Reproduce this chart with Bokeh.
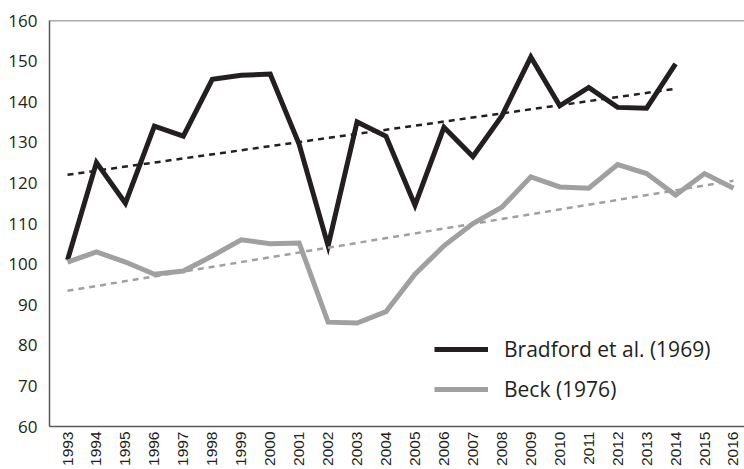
import math
import numpy as np
from bokeh.plotting import figure
from bokeh.models import FixedTicker, Span, Legend, LegendItem, Range1d
from bokeh.embed import file_html
from bokeh.resources import INLINE

# ---- data ----
years_bradford = list(range(1993, 2015))
bradford = [101.0, 125.0, 115.0, 134.0, 131.5, 145.5, 146.5, 146.8, 129.5, 104.5,
            135.0, 131.5, 114.5, 133.7, 126.5, 136.5, 151.0, 139.0, 143.5, 138.6,
            138.4, 149.3]
years_beck = list(range(1993, 2017))
beck = [100.5, 103.0, 100.5, 97.5, 98.3, 102.0, 106.0, 105.0, 105.2, 85.7,
        85.5, 88.3, 97.5, 104.5, 110.0, 114.0, 121.5, 119.0, 118.7, 124.5,
        122.3, 117.0, 122.3, 118.7]
y_ticks = [60, 70, 80, 90, 100, 110, 120, 130, 140, 150, 160]
series_names = ["Bradford et al. (1969)", "Beck (1976)"]

BLACK = "#231f20"
GRAY = "#a0a0a0"
AXIS = "#595959"

p = figure(width=744, height=469, output_backend="svg", toolbar_location=None,
           x_range=Range1d(1992.378, 2016.38), y_range=Range1d(60, 160),
           min_border_left=49, min_border_right=0, min_border_top=20,
           min_border_bottom=43)
p.outline_line_color = None
p.grid.visible = False
p.background_fill_color = "white"
p.border_fill_color = "white"

# axes
p.xaxis.ticker = FixedTicker(ticks=years_beck)
p.xaxis.major_label_orientation = math.pi / 2
p.xaxis.major_label_text_font = "Liberation Sans"
p.xaxis.major_label_text_font_size = "15.5px"
p.xaxis.major_label_standoff = 5
p.yaxis.ticker = FixedTicker(ticks=y_ticks)
p.yaxis.major_label_text_font = "Open Sans"
p.yaxis.major_label_text_font_size = "17px"
p.yaxis.major_label_standoff = 12
for ax in (p.xaxis, p.yaxis):
    ax.major_tick_line_color = None
    ax.minor_tick_line_color = None
    ax.major_tick_out = 0
    ax.major_tick_in = 0
    ax.minor_tick_out = 0
    ax.minor_tick_in = 0
    ax.axis_line_color = AXIS
    ax.axis_line_width = 1.5
    ax.major_label_text_color = BLACK

top = Span(location=160, dimension="width", line_color=AXIS, line_width=1.5)
p.add_layout(top)

# series
r1 = p.line(years_bradford, bradford, line_color=BLACK, line_width=5, line_join="miter")
r2 = p.line(years_beck, beck, line_color=GRAY, line_width=5, line_join="miter")

# linear trend lines (fit of the series)
for xs, ys, col in ((years_bradford, bradford, BLACK), (years_beck, beck, GRAY)):
    k, b = np.polyfit(xs, ys, 1)
    ends = [xs[0], xs[-1]]
    p.line(ends, [k * e + b for e in ends], line_color=col, line_width=2.5, line_dash="6 5")

legend = Legend(items=[LegendItem(label=series_names[0], renderers=[r1]),
                       LegendItem(label=series_names[1], renderers=[r2])],
                location=(385, 23), glyph_width=54, glyph_height=20, label_height=20,
                spacing=12, label_standoff=16, padding=0, margin=0,
                border_line_color=None, background_fill_alpha=0,
                label_text_font="Open Sans", label_text_font_size="21px",
                label_text_color=BLACK)
p.add_layout(legend)

open("out.html", "w").write(file_html(p, INLINE))
